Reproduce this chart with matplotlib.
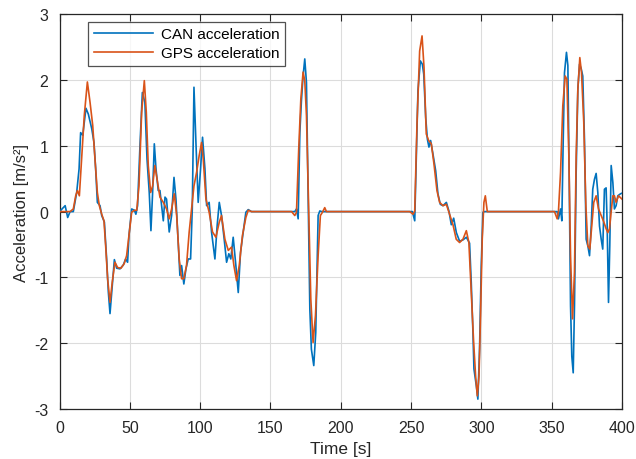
import matplotlib
matplotlib.use("Agg")
import matplotlib.pyplot as plt
import numpy as np

can_t = [0, 4, 5.8, 7.5, 9.8, 12.2, 13.9, 15, 16.5, 18.8, 20.5, 22.9, 24.5, 25.7, 26.9, 28.8, 30, 31.9,
         33.5, 34.7, 35.9, 37.5, 39, 40.6, 43, 45.4, 47, 48.4, 49.4, 51.3, 53.2, 54.3, 55.5, 57.2, 58.9,
         60.7, 62.2, 63.8, 65, 66.2, 67.4, 68.6, 70.2, 71.4, 72.6, 73.8, 75, 76.1, 78, 79.7, 81.4, 82.8,
         84.4, 85.6, 86.8, 88.4, 89.9, 91.5, 93.2, 94.4, 95.6, 97, 98.6, 100.3, 101.7, 103.4, 104.6,
         106.4, 108.1, 110.5, 112.1, 113.6, 115.2, 117.1, 118.8, 120.4, 121.8, 123.5, 125.4, 127.1,
         128.7, 130.6, 132.5, 134.2, 136.5,
         167.3, 168.5, 169.7, 170.9, 172, 173.2, 174.4, 175.6, 176.8, 178, 179.1, 180.8, 182.2, 183.9,
         185.1, 186.3,
         250.9, 252.6, 253.7, 254.9, 256.6, 258, 259, 260.4, 261.6, 262.7, 263.9, 265.6, 267.5, 269.1,
         270.8, 272.7, 275.1, 277, 278.6, 280.3, 282.2, 284.5, 286.9, 289.3, 291.6, 292.8, 294, 294.7,
         296.4, 297.5, 298.7, 299.9, 301.1, 302.3,
         353.9, 354.8, 356.3, 357.2, 358.2, 359.1, 360.5, 361.5, 362.4, 363.4, 364.3, 365.3, 366.2,
         367.4, 368.6, 369.8, 371, 372.1, 373.3, 374.5, 375.7, 376.9, 378.1, 379.2, 380.4, 381.6,
         382.8, 384, 385.2, 386.3, 387.5, 388.7, 389.4, 390.4, 391.3, 392.3, 393.5, 394.6, 395.8,
         397, 398.9, 400]
can_a = [0, 0.09, -0.09, 0, 0, 0.29, 0.65, 1.2, 1.16, 1.57, 1.48, 1.26, 1.05, 0.65, 0.14, 0.09, -0.06, -0.16,
         -0.72, -1.22, -1.55, -1.12, -0.73, -0.86, -0.87, -0.81, -0.72, -0.77, -0.36, 0.04, 0.02, -0.04, 0.09,
         1.0, 1.81, 1.66, 0.8, 0.29, -0.29, 0.29, 1.03, 0.65, 0.32, 0.32, 0.09, -0.14, 0.22, 0.19, -0.31,
         -0.06, 0.52, 0.19, -0.47, -0.97, -0.82, -1.1, -0.87, -0.72, -0.72, 0.04, 1.89, 1.05, 0.14, 0.65,
         1.13, 0.65, 0.09, 0.14, -0.31, -0.72, -0.21, 0.14, -0.06, -0.42, -0.77, -0.64, -0.72, -0.39,
         -0.82, -1.23, -0.62, -0.31, -0.01, 0.03, 0,
         0, 0.04, -0.11, 1.2, 1.68, 2.06, 2.32, 1.96, 0.19, -1.48, -2.09, -2.34, -1.84, -0.06,
         0.01, 0,
         0, -0.14, 0.82, 1.84, 2.29, 2.24, 2.09, 1.43, 1.1, 0.98, 1.08, 0.87, 0.62, 0.27,
         0.11, 0.09, 0.14, 0.0, -0.2, -0.1, -0.32, -0.45, -0.43, -0.39, -0.48, -1.08, -1.84, -2.39,
         -2.65, -2.85, -2.09, -0.82, -0.01, 0,
         0, -0.11, 0.04, -0.14, 1.1, 2.11, 2.42, 2.22, 0.6, -1.43, -2.2, -2.45, -1.43,
         0.6, 1.86, 2.24, 2.17, 2.06, 1.1, -0.42, -0.52, -0.67, -0.22, 0.34, 0.49, 0.58,
         0.29, -0.22, -0.42, -0.57, 0.34, 0.36, -0.16, -1.38, -0.52, 0.7, 0.44, 0.04, 0.09,
         0.24, 0.27, 0.28]

gps_t = [0, 3.9, 7.5, 9.8, 11.5, 12.7, 14.1, 15.7, 17.6, 19.8, 21.7, 23.6, 25.2, 26.9, 28.3, 30, 31.6,
         32.8, 34.2, 35.9, 37.5, 39.4, 41.3, 43.7, 46, 47.7, 49.4, 51.3, 53.2, 54.9, 56.5, 58.4, 60.3,
         61.7, 63.1, 64.8, 66.2, 67.8, 69.7, 71.4, 73.8, 76.1, 78, 79.7, 81.6, 83.3, 85.1, 86.8, 88.4,
         90.3, 92.2, 93.9, 95.6, 97.5, 99.3, 101, 102.2, 104.1, 106.4, 108.8, 111.2, 113.6, 115.2,
         117.6, 120, 122.3, 124, 125.9, 127.8, 130.1, 132.5, 134.2, 136.5,
         165, 167.3, 168.5, 170.1, 171.6, 173.2, 174.4, 175.6, 177.3, 178.7, 180.3, 182, 183.9,
         185.5, 187, 188.6, 189.8,
         249, 251.4, 252.6, 254.2, 256.1, 257.8, 259.2, 260.8, 262.5, 264.4, 266.3, 268.4, 270.3,
         272.7, 275.1, 277.4, 279.8, 282.1, 284.5, 286.9, 289.3, 291.1, 292.8, 294.5, 295.9, 297.1,
         298.3, 299.4, 300.6, 301.8, 302.8, 304.2,
         352, 353.9, 354.8, 356.3, 357.9, 359.6, 360.8, 362.2, 363.4, 364.8, 366.2, 367.4, 368.6,
         370, 371.2, 372.8, 374.3, 375.7, 377.1, 378.5, 379.9, 381.6, 383.3, 385.2, 387.1, 388.7,
         389.9, 391.1, 392.3, 393.5, 394.6, 395.8, 397.5, 400]
gps_a = [0, 0, 0, 0.04, 0.24, 0.32, 0.24, 0.8, 1.46, 1.97, 1.66, 1.31, 0.8, 0.29, 0.09, -0.04, -0.14,
         -0.52, -1.02, -1.38, -1.07, -0.77, -0.85, -0.86, -0.79, -0.67, -0.36, -0.01, 0.02, 0.02, 0.39, 1.51, 1.99,
         1.51, 0.7, 0.29, 0.39, 0.7, 0.45, 0.22, 0.14, 0.04, -0.11, 0.04, 0.27, -0.06, -0.72, -1.02, -1.02,
         -0.82, -0.31, 0.04, 0.39, 0.6, 0.85, 1.05, 0.8, 0.19, -0.01, -0.31, -0.39, -0.16, -0.06,
         -0.42, -0.59, -0.54, -0.82, -1.05, -0.82, -0.36, -0.09, 0.02, 0,
         0, -0.06, -0.01, 0.95, 1.71, 2.12, 1.99, 1.46, -0.06, -1.33, -1.99, -1.58, -0.67,
         -0.06, -0.01, 0.06, 0,
         0, -0.04, 0.01, 1.33, 2.44, 2.67, 2.19, 1.18, 1.08, 1.03, 0.72, 0.32, 0.14,
         0.09, 0.11, -0.04, -0.2, -0.42, -0.47, -0.42, -0.29, -0.47, -1.23, -1.99, -2.5, -2.8,
         -2.5, -1.58, -0.42, 0.14, 0.24, 0,
         0, -0.11, 0, 0.6, 1.61, 2.06, 2.01, 0.85, -0.67, -1.63, -0.92, 0.85, 1.86,
         2.34, 2.11, 1.36, 0.09, -0.52, -0.57, -0.22, 0.14, 0.24, 0.04, -0.06, -0.16, -0.26,
         -0.32, -0.26, 0, 0.24, 0.24, 0.14, 0.24, 0.19]

x_ticks = [0, 50, 100, 150, 200, 250, 300, 350, 400]
y_ticks = [-3, -2, -1, 0, 1, 2, 3]

plt.rcParams['font.family'] = ['Liberation Sans', 'DejaVu Sans']
plt.rcParams['axes.unicode_minus'] = False

fig = plt.figure(figsize=(6.36, 4.6), dpi=100)
ax = fig.add_axes([0.0936, 0.1087, 0.8844, 0.8583])

ax.plot(can_t, can_a, color='#0072BD', lw=1.2, label='CAN acceleration', zorder=3)
ax.plot(gps_t, gps_a, color='#D95319', lw=1.2, label='GPS acceleration', zorder=4)

ax.set_xlim(0, 400)
ax.set_ylim(-3, 3)
ax.set_xticks(x_ticks)
ax.set_yticks(y_ticks)
ax.grid(True, color='#dcdcdc', lw=0.8)
ax.set_axisbelow(True)
ax.tick_params(direction='in', top=True, right=True, length=5, width=0.8,
               colors='#262626', labelsize=11.5)
ax.tick_params(axis='x', pad=8)
ax.tick_params(axis='y', pad=8)
for s in ax.spines.values():
    s.set_color('#262626')
    s.set_linewidth(0.9)
ax.set_xlabel('Time [s]', fontsize=12.5, color='#262626', labelpad=4)
ax.set_ylabel('Acceleration [m/s²]', fontsize=12, color='#262626', labelpad=4)

leg = ax.legend(loc='upper left', bbox_to_anchor=(0.051, 0.981), fontsize=11,
                frameon=True, fancybox=False, edgecolor='#262626', handlelength=3.9,
                borderpad=0.35, labelspacing=0.35, handletextpad=0.5, borderaxespad=0.0)
leg.get_frame().set_linewidth(0.9)

fig.savefig('out.png', dpi=100)
